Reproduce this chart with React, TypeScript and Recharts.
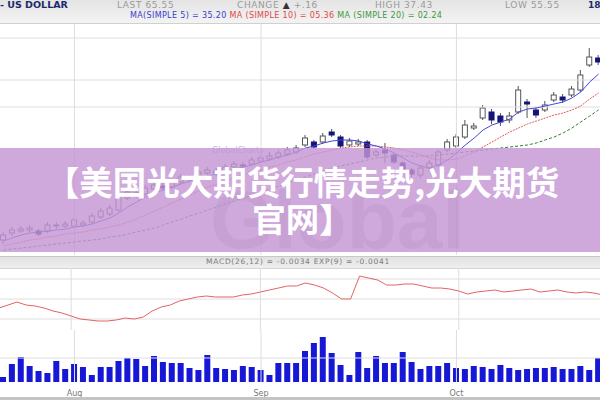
import React from 'react';
import { ComposedChart, LineChart, BarChart, Bar, Line, XAxis, YAxis, ReferenceLine } from 'recharts';

// trading days, Jul 22 - Oct 23
const dates = [
  '7/22', '7/23', '7/24', '7/25', '7/28', '7/29', '7/30', '7/31',
  '8/1', '8/4', '8/5', '8/6', '8/7', '8/8', '8/11', '8/12', '8/13', '8/14', '8/15',
  '8/18', '8/19', '8/20', '8/21', '8/22', '8/25', '8/26', '8/27', '8/28', '8/29',
  '9/1', '9/2', '9/3', '9/4', '9/5', '9/8', '9/9', '9/10', '9/11', '9/12', '9/15',
  '9/16', '9/17', '9/18', '9/19', '9/22', '9/23', '9/24', '9/25', '9/26', '9/29', '9/30',
  '10/1', '10/2', '10/3', '10/6', '10/7', '10/8', '10/9', '10/10', '10/13', '10/14',
  '10/15', '10/16', '10/17', '10/20', '10/21', '10/22', '10/23',
];

const opens = [
  61.5, 62.2, 62.4, 62.5, 62.4, 62.4, 62.9, 62.9, 62.9, 63.0, 63.3, 63.8, 64.1, 64.5, 65.7, 66.2, 66.1,
  66.6, 66.9, 66.8, 67.3, 67.7, 67.7, 68.2, 68.4, 68.3, 68.8, 69.0, 69.1, 69.4, 69.6, 69.8, 70.1, 70.3,
  71.0, 71.3, 71.3, 72.3, 71.8, 71.0, 71.1, 71.3, 70.0, 70.5, 70.0, 69.2, 68.5, 68.0, 68.7, 69.0, 70.5,
  70.9, 71.8, 72.7, 73.7, 74.3, 73.9, 73.5, 74.3, 75.3, 74.5, 74.5, 75.5, 75.8, 76.0, 76.5, 79.0, 79.7,
];
const closes = [
  62.0, 62.5, 62.6, 62.7, 62.1, 63.0, 63.0, 63.1, 63.5, 63.2, 63.9, 64.4, 64.7, 65.9, 66.3, 66.0, 66.7,
  67.0, 66.7, 67.4, 67.8, 67.6, 68.3, 68.5, 68.2, 68.8, 69.1, 68.9, 69.5, 69.7, 69.9, 70.2, 70.5, 70.7,
  71.7, 70.8, 71.9, 72.0, 70.9, 71.4, 71.3, 69.8, 70.3, 70.2, 69.3, 68.5, 68.1, 68.7, 69.2, 70.3, 71.3,
  71.8, 73.0, 72.9, 74.7, 73.5, 73.3, 73.9, 76.5, 75.1, 74.0, 75.0, 76.0, 75.5, 76.6, 78.0, 79.8, 79.3,
];
const highs = [
  62.3, 62.8, 62.9, 63.0, 62.6, 63.3, 63.3, 63.4, 63.8, 63.5, 64.2, 64.7, 65.0, 67.0, 66.7, 66.5, 67.0,
  67.3, 67.2, 67.7, 68.1, 68.0, 68.6, 68.8, 68.7, 69.1, 69.4, 69.3, 69.8, 70.0, 70.3, 70.5, 70.8, 71.0,
  72.0, 71.5, 72.2, 72.6, 72.0, 71.7, 71.6, 71.5, 70.6, 71.2, 70.2, 69.4, 68.7, 69.0, 69.5, 70.5, 71.6,
  72.1, 73.5, 73.2, 75.0, 74.6, 74.2, 74.3, 76.9, 75.6, 74.8, 75.4, 76.3, 76.1, 76.9, 78.5, 80.7, 80.0,
];
const lows = [
  61.1, 61.9, 62.2, 62.3, 61.9, 62.2, 62.6, 62.7, 62.7, 62.8, 63.1, 63.6, 63.9, 64.3, 65.5, 65.7, 65.9,
  66.4, 66.4, 66.6, 67.1, 67.3, 67.5, 68.0, 67.9, 68.1, 68.6, 68.6, 68.9, 69.2, 69.4, 69.6, 69.9, 70.1,
  70.8, 70.6, 71.1, 71.8, 70.7, 70.8, 70.9, 69.6, 69.8, 69.2, 69.1, 68.3, 67.8, 67.7, 68.4, 68.8, 70.3,
  70.7, 71.6, 72.5, 73.5, 73.1, 72.9, 73.2, 74.1, 73.7, 73.7, 74.3, 75.3, 75.2, 75.8, 76.3, 78.8, 79.0,
];

const ma5 = [
  61.4, 61.7, 62.0, 62.2, 62.3, 62.4, 62.5, 62.6, 62.8, 62.9, 63.1, 63.4, 63.7, 64.2, 64.8, 65.3, 65.8,
  66.2, 66.5, 66.8, 67.1, 67.4, 67.7, 67.9, 68.1, 68.3, 68.6, 68.8, 69.0, 69.3, 69.5, 69.8, 70.0, 70.3,
  70.7, 70.9, 71.2, 71.4, 71.5, 71.5, 71.4, 71.1, 70.9, 70.6, 70.2, 69.7, 69.2, 68.9, 68.7, 69.0, 69.5,
  70.2, 71.0, 71.7, 72.5, 73.0, 73.3, 73.6, 74.3, 74.6, 74.7, 74.9, 75.1, 75.3, 75.7, 76.3, 77.3, 78.1,
];
const ma10 = [
  60.9, 61.1, 61.3, 61.5, 61.6, 61.8, 61.9, 62.1, 62.2, 62.3, 62.5, 62.6, 62.8, 63.0, 63.3, 63.6, 64.0,
  64.4, 64.8, 65.2, 65.6, 66.0, 66.4, 66.8, 67.1, 67.4, 67.7, 68.0, 68.3, 68.5, 68.8, 69.0, 69.3, 69.5,
  69.8, 70.1, 70.3, 70.5, 70.7, 70.8, 70.9, 70.9, 70.9, 70.8, 70.7, 70.5, 70.3, 70.0, 69.7, 69.5, 69.5,
  69.6, 69.9, 70.3, 70.8, 71.3, 71.8, 72.3, 72.7, 73.1, 73.4, 73.7, 74.0, 74.2, 74.5, 74.9, 75.6, 76.2,
];
const ma20 = [
  60.5, 60.6, 60.7, 60.8, 60.9, 61.0, 61.1, 61.2, 61.3, 61.4, 61.5, 61.6, 61.8, 61.9, 62.1, 62.3, 62.5,
  62.7, 63.0, 63.3, 63.6, 63.9, 64.2, 64.5, 64.8, 65.1, 65.4, 65.7, 66.0, 66.3, 66.6, 66.9, 67.2, 67.5,
  67.8, 68.1, 68.4, 68.7, 68.9, 69.1, 69.3, 69.5, 69.7, 69.8, 69.9, 69.9, 69.9, 69.9, 69.9, 70.0, 70.1,
  70.2, 70.3, 70.4, 70.5, 70.6, 70.7, 70.8, 70.9, 71.0, 71.2, 71.5, 71.8, 72.2, 72.7, 73.3, 73.9, 74.5,
];

const macd = [
  -0.009, -0.006, -0.003, -0.006, -0.007, -0.009, -0.012, -0.014, -0.017, -0.02, -0.021, -0.022,
  -0.022, -0.021, -0.019, -0.02, -0.018, -0.012, -0.008, -0.006, -0.002, 0.0, 0.002, 0.003, 0.002,
  0.002, 0.002, 0.004, 0.005, 0.007, 0.009, 0.011, 0.013, 0.013, 0.016, 0.014, 0.011, 0.006, 0.0, 0.0,
  0.023, 0.021, 0.019, 0.014, 0.014, 0.015, 0.015, 0.013, 0.011, 0.011, 0.01, 0.008, 0.005, 0.007,
  0.008, 0.009, 0.007, 0.008, 0.009, 0.01, 0.007, 0.008, 0.009, 0.007, 0.006, 0.007, 0.006, 0.004,
];

const volumes = [
  5, 18, 25, 16, 11, 9, 21, 13, 18, 15, 7, 15, 15, 21, 24, 23, 16, 26, 20, 19, 19, 14, 12, 27, 14, 13,
  12, 16, 15, 12, 7, 19, 19, 19, 31, 39, 45, 29, 17, 7, 30, 14, 26, 19, 19, 30, 20, 13, 16, 16, 19, 14,
  13, 16, 15, 13, 17, 14, 12, 13, 14, 14, 15, 13, 13, 16, 12, 24,
];

const monthTicks = ['8/1', '9/1', '10/1'];
const monthLabels = ['Aug', 'Sep', 'Oct'];
const priceGrid = [74.8, 77.5, 81.7];
const macdGrid = [-0.02, 0, 0.02];
const volumeGrid = [24];

const rows = dates.map((date, i) => ({
  date,
  open: opens[i],
  close: closes[i],
  high: highs[i],
  low: lows[i],
  ma5: ma5[i],
  ma10: ma10[i],
  ma20: ma20[i],
  macd: macd[i],
  volume: volumes[i],
}));

const monthOf: Record<string, string> = {};
monthTicks.forEach((t, i) => (monthOf[t] = monthLabels[i]));

const gridColor = '#dedede';

const Candle = (props: any) => {
  const { x, y, width, height, payload } = props;
  if (!payload) return null;
  const { open, close, high, low } = payload;
  const span = high - low || 1;
  const toY = (v: number) => y + ((high - v) / span) * height;
  const cx = x + width / 2;
  const top = toY(Math.max(open, close));
  const bottom = toY(Math.min(open, close));
  const up = close >= open;
  const body = up ? '#555' : '#14147a';
  return (
    <g>
      <line x1={cx} x2={cx} y1={y} y2={y + height} stroke="#555" strokeWidth={1} />
      <rect
        x={x + 0.5}
        y={top}
        width={width - 1}
        height={Math.max(bottom - top, 1)}
        fill={up ? '#ffffff' : '#14147a'}
        stroke={body}
        strokeWidth={1}
      />
    </g>
  );
};

const verticalGrid = () =>
  monthTicks.map((t) => <ReferenceLine key={t} x={t} stroke={gridColor} strokeWidth={1} />);

const txt: React.CSSProperties = {
  position: 'absolute',
  fontFamily: 'DejaVu Sans, sans-serif',
  fontSize: 8,
  whiteSpace: 'nowrap',
  lineHeight: '10px',
};

const topRow: React.CSSProperties = { ...txt, top: 0, fontSize: 9, letterSpacing: 0.6, color: '#9a9a9a' };

export default function App() {
  return (
    <div
      style={{
        position: 'absolute',
        left: 0,
        top: 0,
        width: 600,
        height: 400,
        overflow: 'hidden',
        background: '#ffffff',
      }}
    >
      {/* header */}
      <div
        style={{
          position: 'absolute',
          left: 0,
          top: 0,
          width: 600,
          height: 23,
          background: 'linear-gradient(#e4e4e4, #f3f3f3)',
          borderBottom: '1px solid #d0d0d0',
        }}
      />
      <div style={{ ...txt, left: 0, top: 0, color: '#1c2a6e', fontWeight: 'bold', fontSize: 9.5 }}>- US DOLLAR</div>
      <div style={{ ...topRow, left: 117 }}>LAST 65.55</div>
      <div style={{ ...topRow, left: 237 }}>
        CHANGE <span style={{ color: '#333' }}>▲</span> +.16
      </div>
      <div style={{ ...topRow, left: 375 }}>HIGH 37.43</div>
      <div style={{ ...topRow, left: 505 }}>LOW 55.55</div>
      <div style={{ ...txt, left: 588, top: 0, color: '#1c2a6e', fontWeight: 'bold', fontSize: 9 }}>18</div>
      <div style={{ ...txt, left: 130, top: 11, letterSpacing: 0.35 }}>
        <span style={{ color: '#3b3bd0' }}>MA(SIMPLE 5) = 35.20 </span>
        <span style={{ color: '#e04848' }}>MA (SIMPLE 10) = 05.36 </span>
        <span style={{ color: '#3a9a3a' }}>MA (SIMPLE 20) = 02.24</span>
      </div>

      {/* price panel */}
      <div style={{ position: 'absolute', left: -1, top: 24 }}>
        <ComposedChart
          width={604}
          height={231}
          data={rows}
          margin={{ top: 0, right: 0, bottom: 0, left: 0 }}
          barCategoryGap={0}
        >
          <XAxis dataKey="date" hide />
          <YAxis hide domain={[60, 83.1]} allowDataOverflow />
          {priceGrid.map((v) => (
            <ReferenceLine key={v} y={v} stroke={gridColor} strokeWidth={1} />
          ))}
          {verticalGrid()}
          <Line dataKey="ma20" stroke="#2e7d32" strokeWidth={1} strokeDasharray="3 2" dot={false} isAnimationActive={false} />
          <Line dataKey="ma10" stroke="#e05a5a" strokeWidth={1} strokeDasharray="2 1" dot={false} isAnimationActive={false} />
          <Line dataKey="ma5" stroke="#4646d8" strokeWidth={1} dot={false} isAnimationActive={false} />
          <Bar
            dataKey={(d: any) => [d.low, d.high]}
            barSize={6}
            shape={<Candle />}
            isAnimationActive={false}
          />
        </ComposedChart>
      </div>

      {/* watermark under the banner, clipped to it */}
      <div style={{ ...txt, left: 212, top: 146, color: '#b8b8c8', fontSize: 8 }}>GlobalCharts</div>
      <div style={{ position: 'absolute', left: 0, top: 158, width: 600, height: 94, overflow: 'hidden' }}>
        <div
          style={{
            ...txt,
            left: 210,
            top: 32,
            fontFamily: 'Liberation Sans, sans-serif',
            fontWeight: 'bold',
            fontSize: 82,
            lineHeight: '60px',
            color: 'rgba(140,140,152,0.42)',
          }}
        >
          Global
        </div>
      </div>

      {/* purple banner */}
      <div
        style={{
          position: 'absolute',
          left: 0,
          top: 148,
          width: 600,
          height: 104,
          background: 'rgba(196,150,212,0.82)',
        }}
      />
      <div
        style={{
          position: 'absolute',
          left: 0,
          top: 162,
          width: 605,
          textAlign: 'center',
          color: '#ffffff',
          fontFamily: 'Noto Sans CJK SC, sans-serif',
          fontWeight: 'bold',
          fontSize: 33.5,
          lineHeight: '37px',
        }}
      >
        【美国光大期货行情走势,光大期货
        <br />
        官网】
      </div>

      {/* macd header strip */}
      <div
        style={{
          position: 'absolute',
          left: 0,
          top: 256,
          width: 600,
          height: 11,
          background: 'linear-gradient(#e2e2e2, #efefef)',
          borderTop: '1px solid #c8c8c8',
          borderBottom: '1px solid #d4d4d4',
        }}
      />
      <div
        style={{
          ...txt,
          left: 0,
          top: 257,
          width: 596,
          textAlign: 'center',
          color: '#7a7a7a',
          fontSize: 7.5,
          letterSpacing: 0.7,
        }}
      >
        MACD(26,12) = -0.0034  EXP(9) = -0.0041
      </div>

      {/* macd panel */}
      <div style={{ position: 'absolute', left: -1, top: 268 }}>
        <LineChart width={604} height={62} data={rows} margin={{ top: 0, right: 0, bottom: 0, left: 0 }}>
          <XAxis dataKey="date" hide />
          <YAxis hide domain={[-0.031, 0.031]} allowDataOverflow />
          {macdGrid.map((v) => (
            <ReferenceLine key={v} y={v} stroke={gridColor} strokeWidth={1} />
          ))}
          {verticalGrid()}
          <Line dataKey="macd" stroke="#e26464" strokeWidth={1} dot={false} isAnimationActive={false} />
        </LineChart>
      </div>

      {/* volume panel */}
      <div style={{ position: 'absolute', left: -1, top: 330 }}>
        <BarChart
          width={604}
          height={70}
          data={rows}
          margin={{ top: 0, right: 0, bottom: 0, left: 0 }}
          barCategoryGap={0}
        >
          <XAxis
            dataKey="date"
            interval={0}
            axisLine={false}
            tickLine={false}
            height={18}
            tick={{ fontSize: 8, fill: '#777', fontFamily: 'DejaVu Sans' }}
            tickFormatter={(v: string) => monthOf[v] ?? ''}
          />
          <YAxis hide domain={[0, 52]} allowDataOverflow />
          {volumeGrid.map((v) => (
            <ReferenceLine key={v} y={v} stroke={gridColor} strokeWidth={1} />
          ))}
          {verticalGrid()}
          <Bar dataKey="volume" fill="#1717d6" barSize={6} isAnimationActive={false} />
        </BarChart>
      </div>
      <div style={{ position: 'absolute', left: 0, top: 397, width: 600, height: 3, background: '#c4c4c4' }} />
    </div>
  );
}
